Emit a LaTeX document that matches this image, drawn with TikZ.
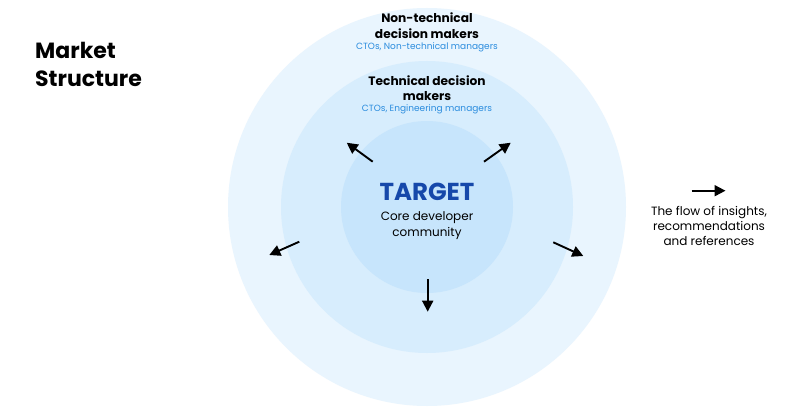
\documentclass[tikz,border=0pt]{standalone}
\usepackage{fontspec}
\setmainfont{Poppins}
\usetikzlibrary{arrows.meta}
\definecolor{ringA}{RGB}{233,245,254}
\definecolor{ringB}{RGB}{215,237,253}
\definecolor{ringC}{RGB}{199,229,252}
\definecolor{subblue}{RGB}{42,140,222}
\definecolor{targetblue}{RGB}{22,72,170}
\tikzset{
  ring/.style={circle, draw=none, inner sep=0pt},
  flow/.style={line width=1.9pt, -{Triangle[length=11pt,width=11pt]}},
  title/.style={font=\bfseries\fontsize{12.2}{15.5}\selectfont, align=center, text=black},
  sub/.style={font=\fontsize{9}{11}\selectfont, text=subblue},
  body/.style={font=\fontsize{12}{15.5}\selectfont, align=center, text=black},
}
\begin{document}
\begin{tikzpicture}[x=1pt,y=-1pt]
\useasboundingbox (0,0) rectangle (800,412);
\fill[white] (0,0) rectangle (800,412);
\node[ring, fill=ringA, minimum size=398pt] (outer) at (427,207) {};
\node[ring, fill=ringB, minimum size=292pt] (middle) at (427,207) {};
\node[ring, fill=ringC, minimum size=172pt] (inner) at (427,207) {};

\node[font=\bfseries\fontsize{22}{28}\selectfont, align=left, anchor=north west, inner sep=0pt] (market) at (35,42) {Market\\Structure};

\node[title] (nontech) at (427,25.5) {Non-technical\\decision makers};
\node[sub] (nontechsub) at (427,47.5) {CTOs, Non-technical managers};
\node[title] (tech) at (427,88) {Technical decision\\makers};
\node[sub] (techsub) at (427,109.5) {CTOs, Engineering managers};

\node[font=\bfseries\fontsize{24.5}{28}\selectfont, text=targetblue] (target) at (427,192) {TARGET};
\node[body] (core) at (427,225.5) {Core developer\\community};

\coordinate (ulS) at (372.7,161.7); \coordinate (ulE) at (346.7,142.7);
\coordinate (urS) at (484,161.7);   \coordinate (urE) at (510.7,142.7);
\coordinate (lS) at (299.3,241.7);  \coordinate (lE) at (269.3,255);
\coordinate (rS) at (553.3,242.3);  \coordinate (rE) at (583.3,256);
\coordinate (dS) at (427.7,279.3);  \coordinate (dE) at (427.7,311.7);
\draw[flow] (ulS) -- (ulE);
\draw[flow] (urS) -- (urE);
\draw[flow] (lS) -- (lE);
\draw[flow] (rS) -- (rE);
\draw[flow] (dS) -- (dE);

\coordinate (legS) at (691.7,190.7); \coordinate (legE) at (725.5,190.7);
\draw[flow] (legS) -- (legE);
\node[body, font=\fontsize{12}{15}\selectfont] (legend) at (709,226) {The flow of insights,\\recommendations\\and references};
\end{tikzpicture}
\end{document}
